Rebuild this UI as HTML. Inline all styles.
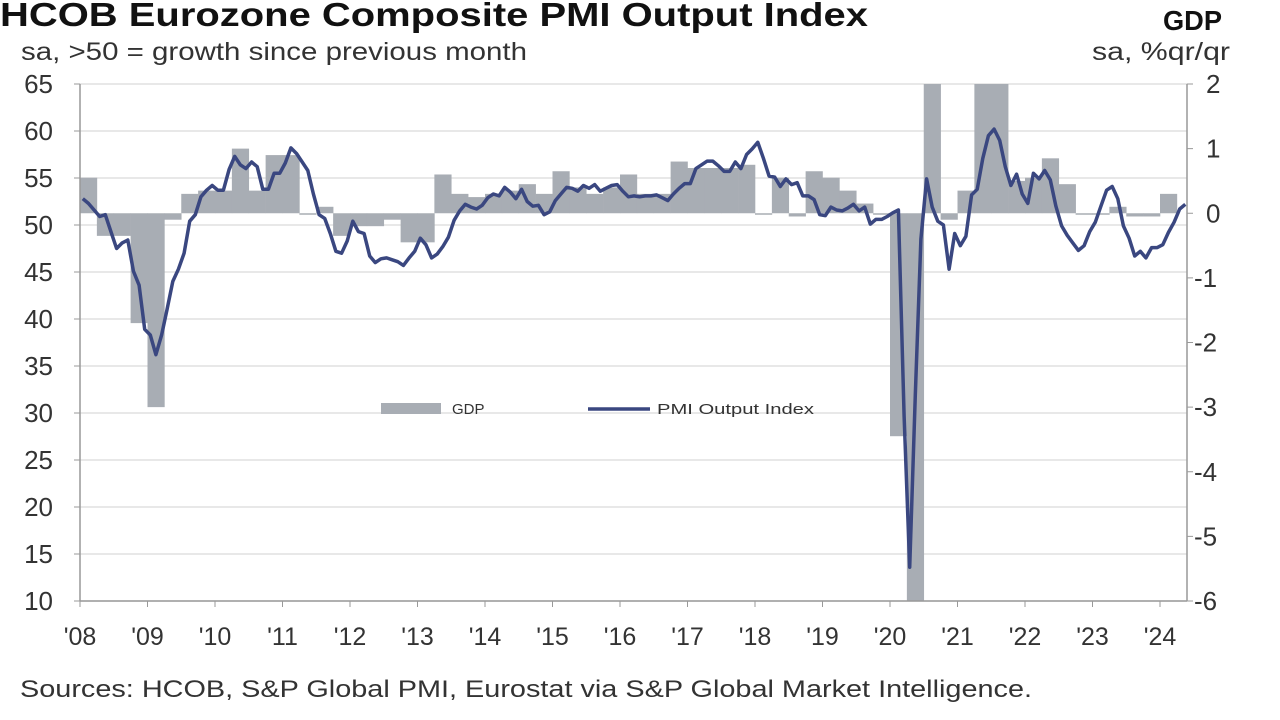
<!DOCTYPE html>
<html><head><meta charset="utf-8"><style>
html,body{margin:0;padding:0;background:#fff;width:1280px;height:720px;overflow:hidden}
svg{display:block}
text{font-family:"Liberation Sans",Arial,sans-serif}
</style></head><body>
<svg id="c" width="1280" height="720" xmlns="http://www.w3.org/2000/svg">
<text x="0" y="26" font-size="33" font-weight="bold" fill="#111" textLength="868" lengthAdjust="spacingAndGlyphs">HCOB Eurozone Composite PMI Output Index</text>
<text x="21" y="60" font-size="25" fill="#333" textLength="506" lengthAdjust="spacingAndGlyphs">sa, &gt;50 = growth since previous month</text>
<text x="1163" y="30" font-size="28" font-weight="bold" fill="#111" textLength="59" lengthAdjust="spacingAndGlyphs">GDP</text>
<text x="1092" y="60" font-size="25" fill="#333" textLength="138" lengthAdjust="spacingAndGlyphs">sa, %qr/qr</text>
<g id="grid"></g><g id="bars"></g><g id="axes"></g>
<path id="pmi" fill="none" stroke="#3a4780" stroke-width="3.5" stroke-linejoin="round"/>
<rect x="381" y="403" width="60" height="11" fill="#a8adb4"/>
<text x="452" y="414" font-size="15" fill="#333">GDP</text>
<line x1="588" y1="409" x2="650" y2="409" stroke="#3a4780" stroke-width="3.5"/>
<text x="657" y="414" font-size="15" fill="#333" textLength="157" lengthAdjust="spacingAndGlyphs">PMI Output Index</text>
<text x="20" y="697" font-size="24" fill="#333" textLength="1012" lengthAdjust="spacingAndGlyphs">Sources: HCOB, S&amp;P Global PMI, Eurostat via S&amp;P Global Market Intelligence.</text>
</svg>
<script>
var NS="http://www.w3.org/2000/svg";
function el(p,t,a,txt){var e=document.createElementNS(NS,t);for(var k in a)e.setAttribute(k,a[k]);if(txt!==undefined)e.textContent=txt;document.getElementById(p).appendChild(e);return e;}
var X0=80,X1=1187,YT=84,YB=601,PY=(YB-YT)/55,YR=67.5;
function yp(v){return YT+(65-v)*PY;}
var G0=YT+2*(YB-YT)/8,GU=(YB-YT)/8;
function yg(v){return G0-v*GU;}
for(var v=10;v<=65;v+=5){el("grid","line",{x1:X0,x2:X1,y1:yp(v),y2:yp(v),stroke:"#d9d9d9","stroke-width":1.2});
el("axes","text",{x:53,y:yp(v)+9,"font-size":26,fill:"#333","text-anchor":"end"},""+v);
el("axes","line",{x1:74,x2:X0,y1:yp(v),y2:yp(v),stroke:"#999"});}
for(var g=-6;g<=2;g++){el("axes","line",{x1:X1,x2:X1+6,y1:yg(g),y2:yg(g),stroke:"#999"});
el("axes","text",{x:g<0?1194:1206,y:yg(g)+9,"font-size":26,fill:"#333"},""+g);}
el("axes","line",{x1:X0,x2:X0,y1:YT,y2:YB,stroke:"#999","stroke-width":1.5});
el("axes","line",{x1:X1,x2:X1,y1:YT,y2:YB,stroke:"#999","stroke-width":1.5});
el("axes","line",{x1:X0,x2:X1,y1:YB,y2:YB,stroke:"#999","stroke-width":1.5});
for(var y=0;y<=16;y++){var x=X0+y*YR;el("axes","line",{x1:x,x2:x,y1:YB,y2:YB+6,stroke:"#999"});
el("axes","text",{x:x,y:645,"font-size":25,fill:"#333","text-anchor":"middle"},"'"+("0"+(8+y)).slice(-2));}
var gdp=[0.55,-0.35,-0.35,-1.7,-3.0,-0.1,0.3,0.35,0.35,1.0,0.35,0.9,0.9,0.0,0.1,-0.35,-0.2,-0.2,-0.1,-0.45,-0.45,0.6,0.3,0.25,0.3,0.35,0.45,0.3,0.65,0.4,0.3,0.4,0.6,0.3,0.3,0.8,0.7,0.7,0.7,0.75,0.0,0.55,-0.05,0.65,0.55,0.35,0.15,0.0,-3.45,-11,12,-0.1,0.35,2.5,2.5,0.5,0.55,0.85,0.45,0.0,0.0,0.1,-0.05,-0.05,0.3];
var qw=YR/4;
gdp.forEach(function(g,i){var x=X0+i*qw,v=Math.max(-6,Math.min(2,g));var a=yg(0),b=yg(v);
el("bars","rect",{x:x,y:Math.min(a,b),width:qw+0.3,height:Math.max(1.5,Math.abs(b-a)),fill:"#a8adb4"});});
var pmi=[52.8,52.3,51.6,50.9,51.1,49.3,47.5,48.1,48.4,45.1,43.6,38.9,
38.3,36.2,38.3,41.1,44.0,45.3,47.0,50.4,51.1,53.0,53.7,54.2,
53.7,53.7,55.9,57.3,56.4,56.0,56.7,56.2,53.8,53.8,55.5,55.5,
56.6,58.2,57.6,56.7,55.8,53.3,51.1,50.7,49.1,47.2,47.0,48.3,
50.4,49.3,49.1,46.7,46.0,46.4,46.5,46.3,46.1,45.7,46.5,47.2,
48.6,47.9,46.5,46.9,47.7,48.7,50.5,51.5,52.2,51.9,51.7,52.1,
52.9,53.3,53.1,54.0,53.5,52.8,53.8,52.5,52.0,52.1,51.1,51.4,
52.6,53.3,54.0,53.9,53.6,54.2,53.9,54.3,53.6,53.9,54.2,54.3,
53.6,53.0,53.1,53.0,53.1,53.1,53.2,52.9,52.6,53.3,53.9,54.4,
54.4,56.0,56.4,56.8,56.8,56.3,55.7,55.7,56.7,56.0,57.5,58.1,
58.8,57.1,55.2,55.1,54.1,54.9,54.3,54.5,53.1,53.1,52.7,51.1,
51.0,51.9,51.6,51.5,51.8,52.2,51.5,51.9,50.1,50.6,50.6,50.9,
51.3,51.6,29.7,13.6,31.9,48.5,54.9,51.9,50.4,50.0,45.3,49.1,
47.8,48.8,53.2,53.8,57.1,59.5,60.2,59.0,56.2,54.2,55.4,53.3,
52.3,55.5,54.9,55.8,54.8,52.0,49.9,48.9,48.1,47.3,47.8,49.3,
50.3,52.0,53.7,54.1,52.8,49.9,48.6,46.7,47.2,46.5,47.6,47.6,
47.9,49.2,50.3,51.7,52.2];
var d="";pmi.forEach(function(v,i){var x=X0+(i+0.5)*YR/12;d+=(i?"L":"M")+x.toFixed(1)+","+yp(v).toFixed(1);});
document.getElementById("pmi").setAttribute("d",d);
</script>
</body></html>
